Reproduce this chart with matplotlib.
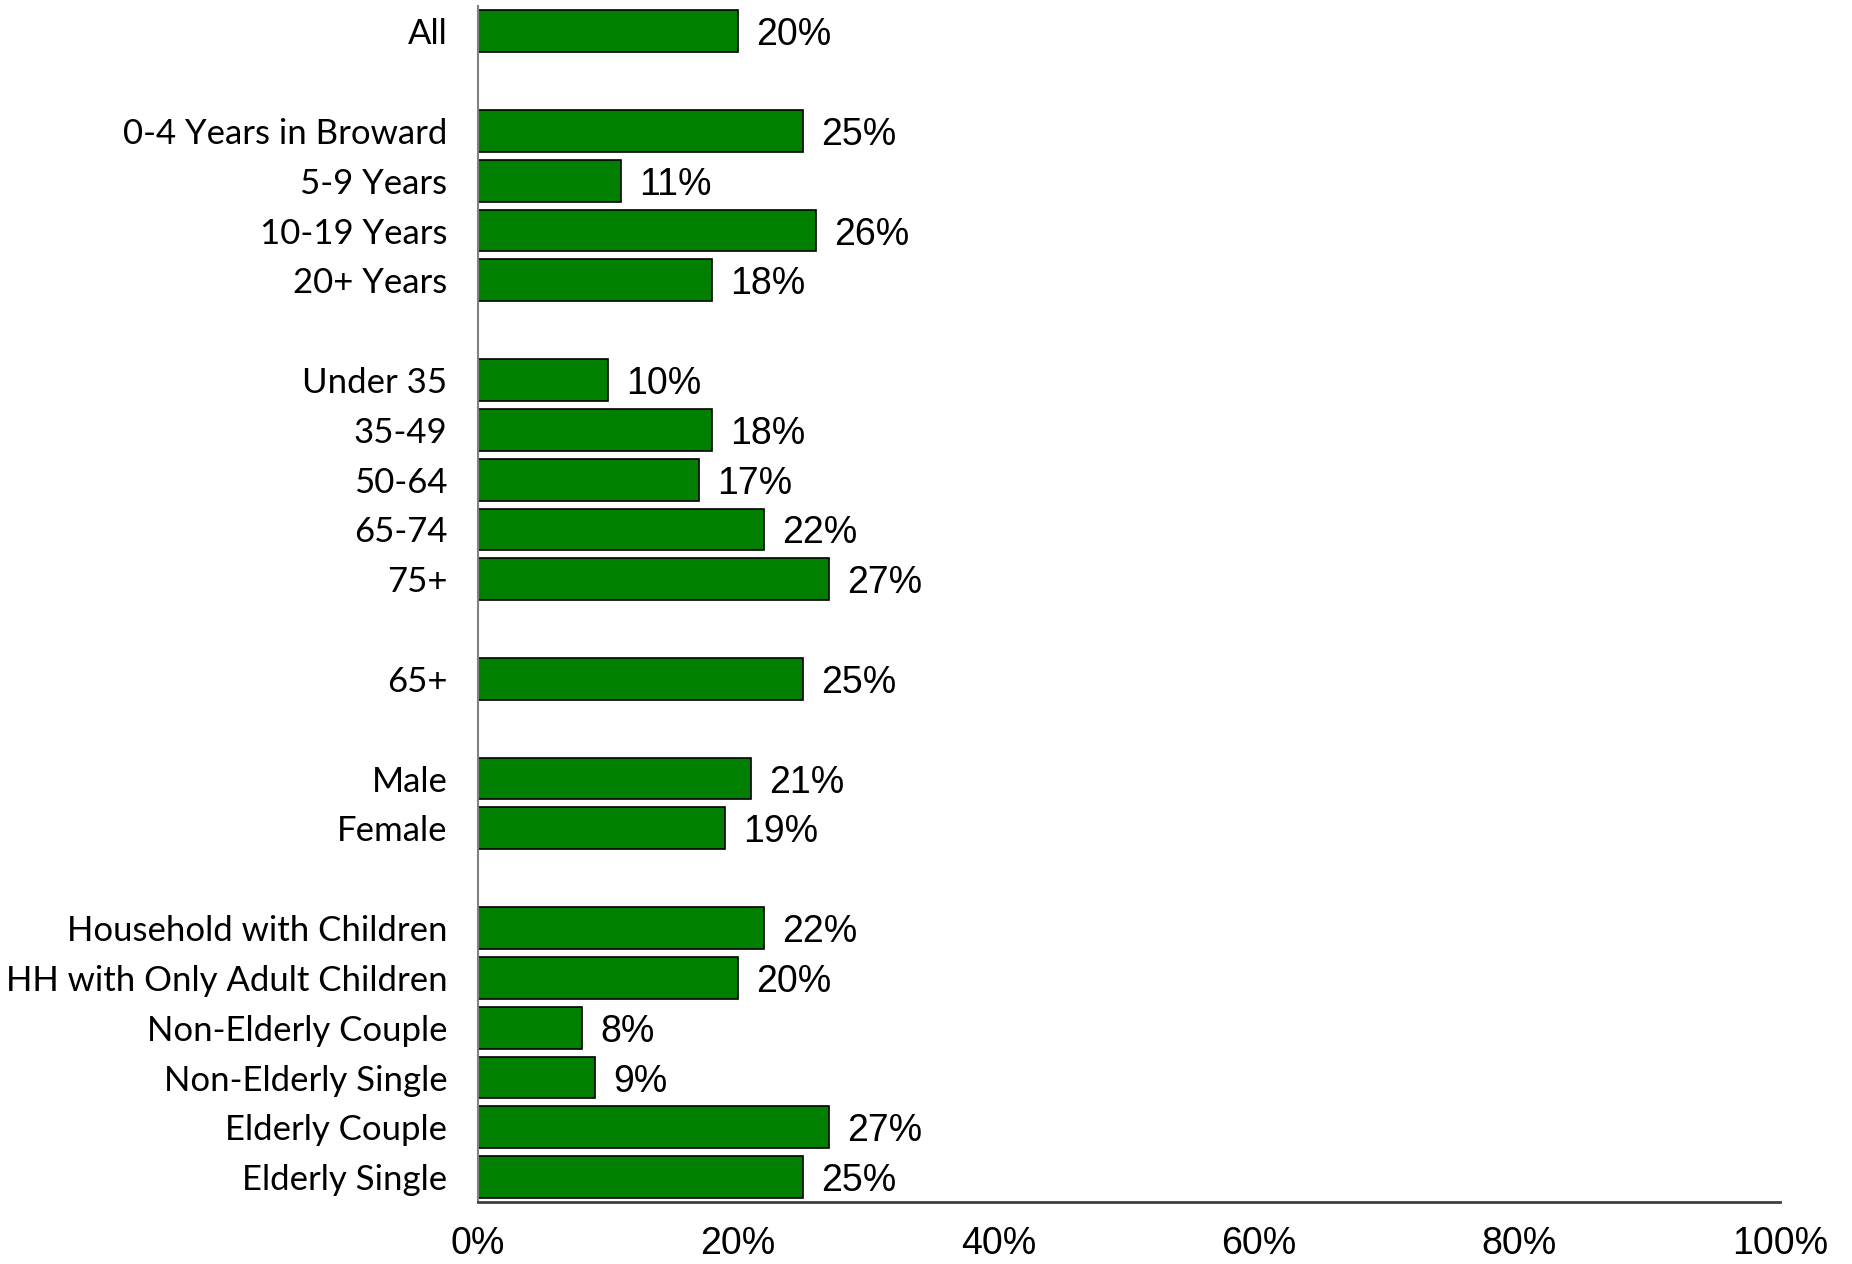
"""
Share by group — horizontal bar chart, recreated with matplotlib.
"""

import matplotlib
matplotlib.use("Agg")
import matplotlib.pyplot as plt

# category groups (each group separated by an empty row)
groups = [
    ["All"],
    ["0-4 Years in Broward", "5-9 Years", "10-19 Years", "20+ Years"],
    ["Under 35", "35-49", "50-64", "65-74", "75+"],
    ["65+"],
    ["Male", "Female"],
    ["Household with Children", "HH with Only Adult Children",
     "Non-Elderly Couple", "Non-Elderly Single", "Elderly Couple",
     "Elderly Single"],
]
group_values = [
    [20],
    [25, 11, 26, 18],
    [10, 18, 17, 22, 27],
    [25],
    [21, 19],
    [22, 20, 8, 9, 27, 25],
]
x_ticks = [0, 20, 40, 60, 80, 100]
x_tick_labels = ["0%", "20%", "40%", "60%", "80%", "100%"]

BAR_COLOR = "#007F00"


def main():
    # rows: one slot per bar, plus one empty slot between groups
    labels, values, positions = [], [], []
    pos = 0
    for names, vals in zip(groups, group_values):
        for n, v in zip(names, vals):
            labels.append(n)
            values.append(v)
            positions.append(pos)
            pos += 1
        pos += 1
    n_slots = pos - 1

    fig = plt.figure(figsize=(18.52, 12.64), dpi=100)
    ax = fig.add_axes([0.258, 0.049, 0.703, 0.946])

    ax.barh(positions, values, height=0.84, color=BAR_COLOR,
            edgecolor="black", linewidth=1.2)

    for p, v in zip(positions, values):
        ax.annotate(f"{v}%", (v, p), xytext=(13, 0), textcoords="offset points",
                    va="center_baseline", ha="left", fontsize=27,
                    family="Liberation Sans", color="black")

    ax.set_ylim(n_slots - 0.5, -0.5)
    ax.set_xlim(0, 100)
    ax.set_yticks(positions)
    ax.set_yticklabels(labels, family="Lato", fontsize=25)
    ax.set_xticks(x_ticks)
    ax.set_xticklabels(x_tick_labels, family="Liberation Sans", fontsize=27)
    ax.tick_params(axis="y", length=0, pad=22)
    ax.tick_params(axis="x", length=0, pad=17)

    for side in ("top", "right"):
        ax.spines[side].set_visible(False)
    ax.spines["left"].set_color("#808080")
    ax.spines["left"].set_linewidth(1.5)
    ax.spines["bottom"].set_color("#404040")
    ax.spines["bottom"].set_linewidth(2)

    fig.savefig("out.png", dpi=100)
    plt.close(fig)


if __name__ == "__main__":
    main()
